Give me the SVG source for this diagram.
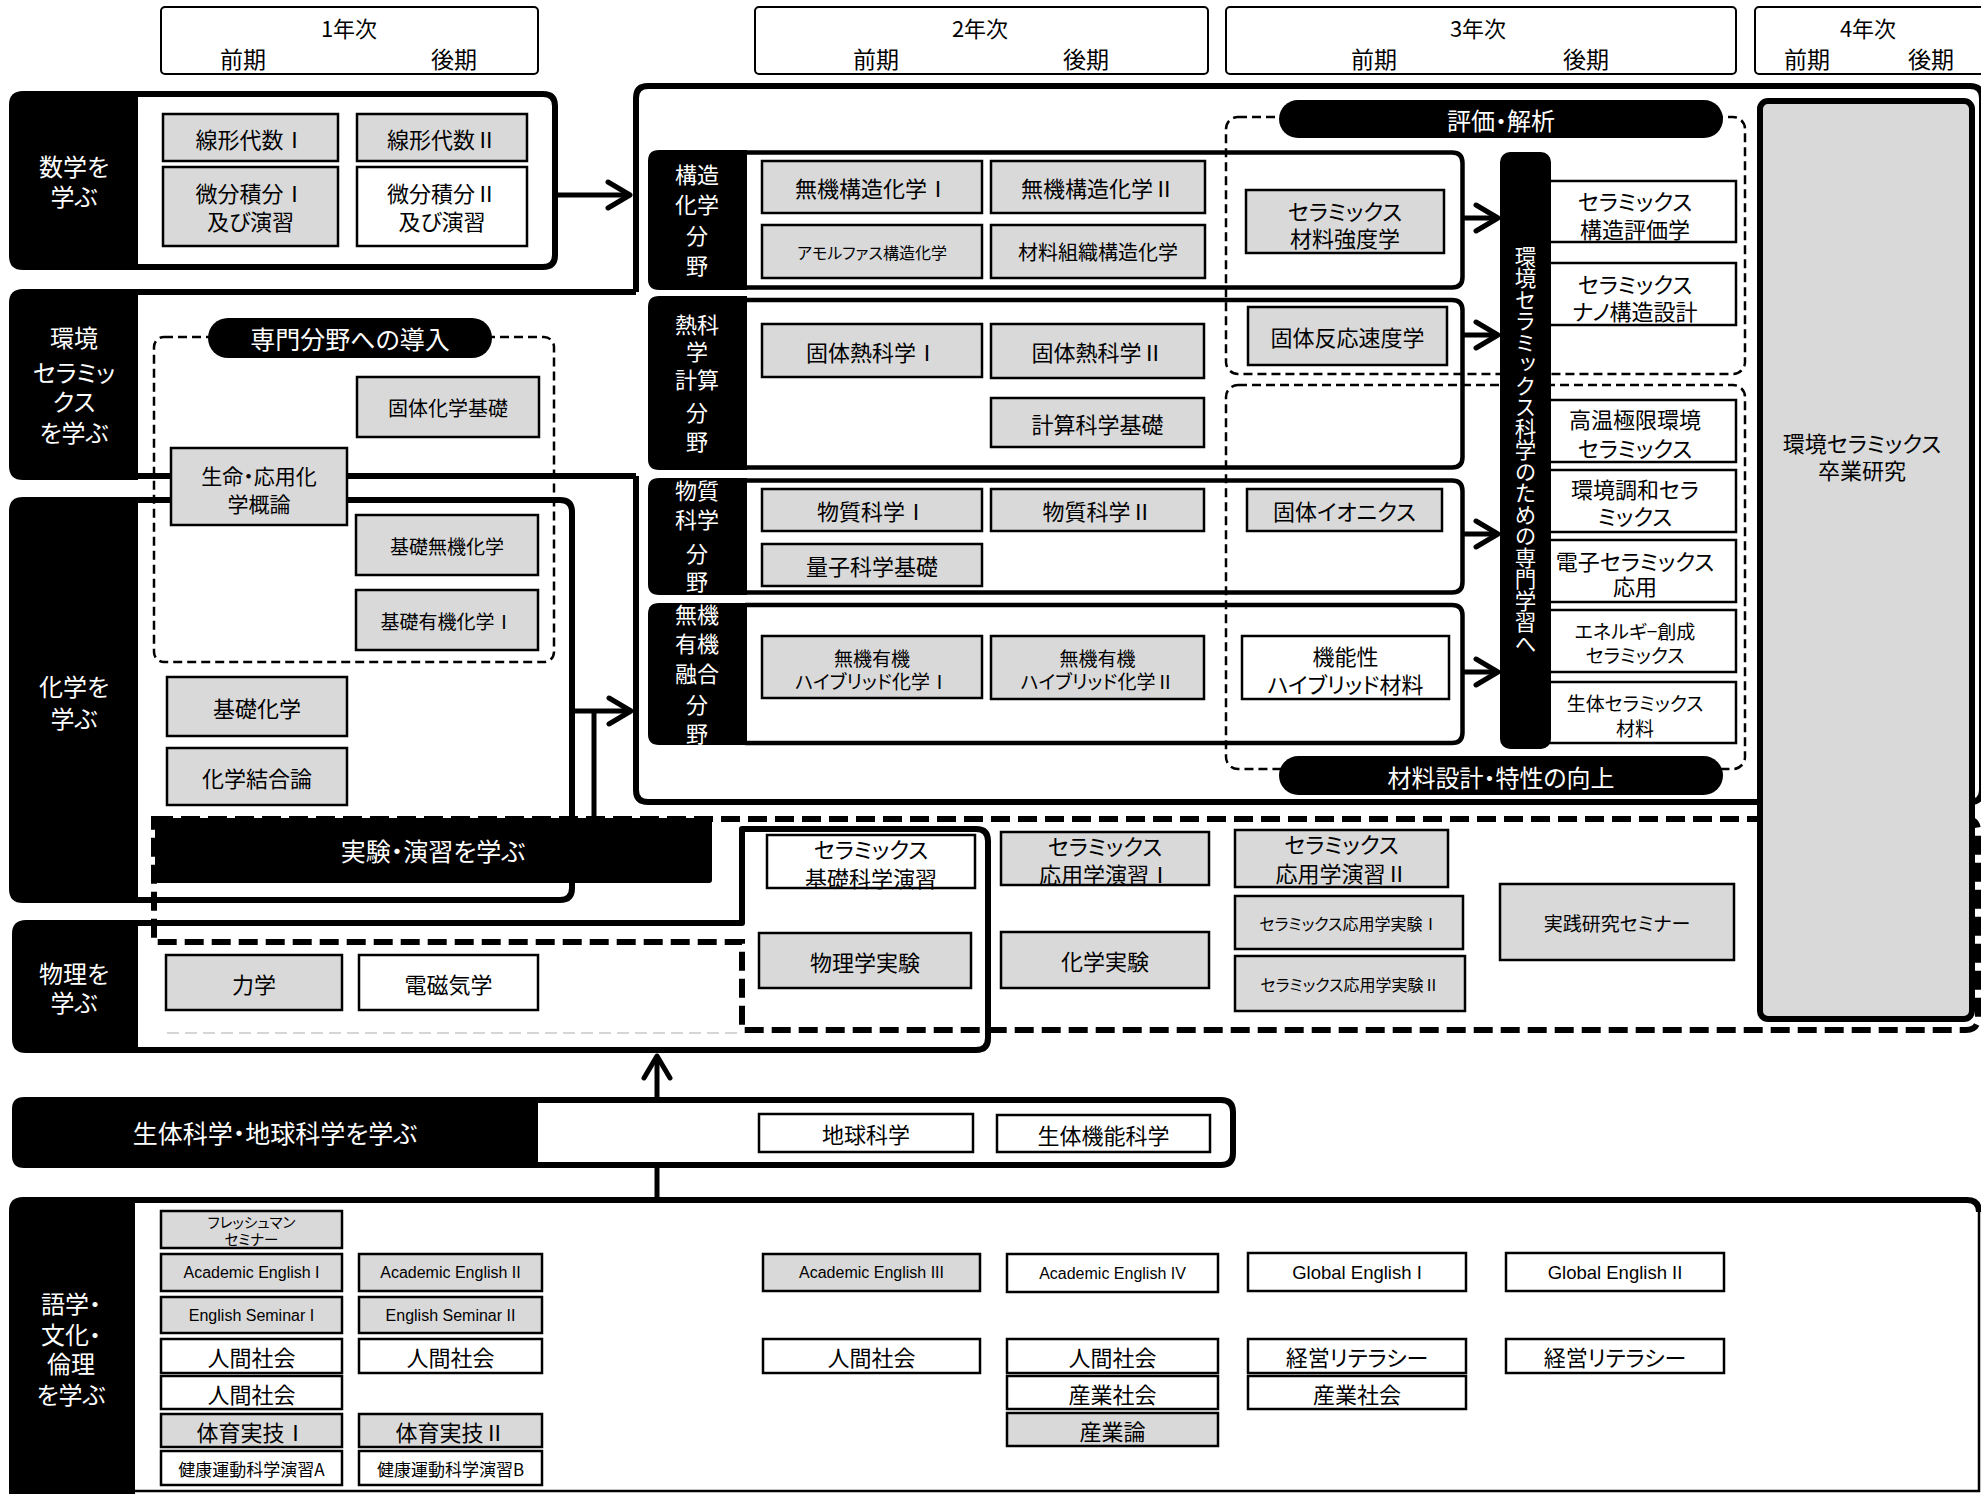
<svg xmlns="http://www.w3.org/2000/svg" width="1981" height="1494" viewBox="0 0 1981 1494">
<defs>
<style>
text{font-family:"Noto Sans CJK JP","Noto Sans CJK SC",sans-serif;text-anchor:middle;dominant-baseline:central;font-feature-settings:"palt";fill:#000;font-size:22px}
.rn{font-feature-settings:normal}
.wt{fill:#fff}
.en{font-family:"Liberation Sans",Arial,sans-serif;font-feature-settings:normal;font-size:16px}
.en2{font-family:"Liberation Sans",Arial,sans-serif;font-feature-settings:normal;font-size:18.5px}
.g{fill:#d9d9d9;stroke:#000;stroke-width:2.5}
.w{fill:#fff;stroke:#000;stroke-width:2.5}
.hdr{fill:#fff;stroke:#000;stroke-width:2}
.frame{fill:none;stroke:#000;stroke-width:6;stroke-linejoin:round}
.thin{fill:none;stroke:#000;stroke-width:2.5}
.ff{fill:none;stroke:#000;stroke-width:4.5;stroke-linejoin:round}
.blk{fill:#000}
.dt{fill:none;stroke:#000;stroke-width:2.5;stroke-dasharray:9 5}
.dk{fill:none;stroke:#000;stroke-width:6;stroke-dasharray:19 8}
.lg{fill:none;stroke:#c8c8c8;stroke-width:1.5;stroke-dasharray:12 6}
.ln{fill:none;stroke:#000;stroke-width:5}
.f14{font-size:14.5px}.f16{font-size:16px}.f17{font-size:17px}.f19{font-size:19px}.f20{font-size:20px}.f21{font-size:21px}.f23{font-size:23px}.f24{font-size:24px}.f25{font-size:25px}
.vt{writing-mode:vertical-rl;font-feature-settings:normal;font-size:21.5px}
</style>
<marker id="arr" markerUnits="userSpaceOnUse" markerWidth="32" markerHeight="32" viewBox="0 0 32 32" refX="28" refY="16" orient="auto">
<path d="M6 3 L28 16 L6 29" fill="none" stroke="#000" stroke-width="5" stroke-linecap="round" stroke-linejoin="round"/>
</marker>
</defs>
<rect x="0" y="0" width="1981" height="1494" fill="#fff"/>

<!-- Year headers -->
<g id="hdr1"><rect class="hdr" x="161" y="7" width="377" height="67" rx="4"/><text x="349" y="27">1年次</text><text class="f23" x="243" y="58">前期</text><text class="f23" x="454" y="58">後期</text></g>
<g id="hdr2"><rect class="hdr" x="755" y="7" width="453" height="67" rx="4"/><text x="980" y="27">2年次</text><text class="f23" x="876" y="58">前期</text><text class="f23" x="1086" y="58">後期</text></g>
<g id="hdr3"><rect class="hdr" x="1226" y="7" width="510" height="67" rx="4"/><text x="1478" y="27">3年次</text><text class="f23" x="1374" y="58">前期</text><text class="f23" x="1586" y="58">後期</text></g>
<g id="hdr4"><rect class="hdr" x="1755" y="7" width="240" height="67" rx="4"/><text x="1868" y="27">4年次</text><text class="f23" x="1807" y="58">前期</text><text class="f23" x="1931" y="58">後期</text></g>

<!-- Big 2-3 year panel -->
<g id="panel-major">
<path class="frame" d="M636 292 V98 Q636 86 648 86 H1970 Q1982 86 1982 98 V790 Q1982 802 1970 802 H648 Q636 802 636 790 V476"/>
</g>

<!-- 環境セラミックスを学ぶ -->
<g id="panel-env">
<path class="frame" d="M135 292 H636 M135 476 H636"/>
<path class="blk" d="M138 289 H23 Q9 289 9 303 V466 Q9 480 23 480 H138 Z"/>
<text class="wt f24" x="74" y="336">環境</text>
<text class="wt f24" x="74" y="371">セラミッ</text>
<text class="wt f24" x="74" y="400">クス</text>
<text class="wt f24" x="74" y="431">を学ぶ</text>
</g>

<!-- 数学を学ぶ -->
<g id="panel-math">
<path class="frame" d="M135 94 H543 Q555 94 555 106 V255 Q555 267 543 267 H135" fill="#fff"/>
<path class="blk" d="M138 91 H23 Q9 91 9 105 V256 Q9 270 23 270 H138 Z"/>
<text class="wt f24" x="74" y="165">数学を</text>
<text class="wt f24" x="74" y="195">学ぶ</text>
</g>

<!-- 化学を学ぶ -->
<g id="panel-chem">
<path class="frame" d="M135 500 H560 Q572 500 572 512 V888 Q572 900 560 900 H135"/>
<path class="blk" d="M138 497 H23 Q9 497 9 511 V889 Q9 903 23 903 H138 Z"/>
<text class="wt f24" x="74" y="685">化学を</text>
<text class="wt f24" x="74" y="717">学ぶ</text>
</g>

<!-- 専門分野への導入 -->
<g id="intro-region">
<rect class="dt" x="154" y="337" width="400" height="325" rx="10"/>
<rect class="blk" x="208" y="318" width="284" height="40" rx="20"/>
<text class="wt f25" x="350" y="338">専門分野への導入</text>
</g>

<!-- Field frames -->
<g id="field-struct">
<path class="ff" d="M745 152.5 H1452 Q1462.5 152.5 1462.5 163 V277 Q1462.5 287.5 1452 287.5 H745"/>
<path class="blk" d="M747 150 H659 Q648 150 648 161 V279 Q648 290 659 290 H747 Z"/>
<text class="wt" x="697" y="173">構造</text><text class="wt" x="697" y="203">化学</text><text class="wt" x="697" y="234">分</text><text class="wt" x="697" y="264">野</text>
</g>
<g id="field-thermo">
<path class="ff" d="M745 300 H1452 Q1462.5 300 1462.5 310.5 V457 Q1462.5 467.5 1452 467.5 H745"/>
<path class="blk" d="M747 296 H659 Q648 296 648 307 V459 Q648 470 659 470 H747 Z"/>
<text class="wt" x="697" y="323">熱科</text><text class="wt" x="697" y="350">学</text><text class="wt" x="697" y="378">計算</text><text class="wt" x="697" y="411">分</text><text class="wt" x="697" y="440">野</text>
</g>
<g id="field-matter">
<path class="ff" d="M745 480.5 H1452 Q1462.5 480.5 1462.5 491 V582 Q1462.5 592.5 1452 592.5 H745"/>
<path class="blk" d="M747 478 H659 Q648 478 648 489 V584 Q648 595 659 595 H747 Z"/>
<text class="wt" x="697" y="489">物質</text><text class="wt" x="697" y="518">科学</text><text class="wt" x="697" y="552">分</text><text class="wt" x="697" y="580">野</text>
</g>
<g id="field-hybrid">
<path class="ff" d="M745 605 H1452 Q1462.5 605 1462.5 615.5 V732.5 Q1462.5 743 1452 743 H745"/>
<path class="blk" d="M747 603 H659 Q648 603 648 614 V734 Q648 745 659 745 H747 Z"/>
<text class="wt" x="697" y="613">無機</text><text class="wt" x="697" y="642">有機</text><text class="wt" x="697" y="672">融合</text><text class="wt" x="697" y="703">分</text><text class="wt" x="697" y="732">野</text>
</g>

<!-- 評価・解析 / 材料設計 regions -->
<g id="eval-region">
<rect class="dt" x="1226" y="117" width="519" height="257" rx="12"/>
<rect class="blk" x="1279" y="100" width="444" height="38" rx="19"/>
<text class="wt f24" x="1501" y="119">評価・解析</text>
</g>
<g id="design-region">
<rect class="dt" x="1226" y="385" width="519" height="384" rx="12"/>
<rect class="blk" x="1279" y="756" width="444" height="39" rx="19.5"/>
<text class="wt f24" x="1501" y="776">材料設計・特性の向上</text>
</g>

<!-- 実験・演習 region -->
<g id="lab-region">
<path class="dk" d="M154 819 H1966 Q1978 819 1978 831 V1018 Q1978 1030 1966 1030 H742 V942 H154 Z"/>
<line class="lg" x1="167" y1="1033" x2="737" y2="1033"/>
<rect class="blk" x="155" y="818" width="557" height="65" rx="3"/>
<text class="wt f25" x="433" y="850">実験・演習を学ぶ</text>
</g>

<!-- 物理を学ぶ -->
<g id="panel-phys">
<path class="frame" d="M135 923 H742 V829 H976 Q988 829 988 841 V1038 Q988 1050 976 1050 H135"/>
<path class="blk" d="M138 920 H26 Q12 920 12 934 V1039 Q12 1053 26 1053 H138 Z"/>
<text class="wt f24" x="74" y="972">物理を</text>
<text class="wt f24" x="74" y="1001">学ぶ</text>
</g>

<!-- 生体科学・地球科学を学ぶ -->
<g id="panel-bio">
<path class="frame" d="M535 1100 H1221 Q1233 1100 1233 1112 V1153 Q1233 1165 1221 1165 H535"/>
<path class="blk" d="M538 1097 H24 Q12 1097 12 1109 V1156 Q12 1168 24 1168 H538 Z"/>
<text class="wt f25" x="275" y="1132">生体科学・地球科学を学ぶ</text>
</g>

<!-- 語学・文化・倫理を学ぶ -->
<g id="panel-lang">
<path class="frame" d="M132 1200 H1967 Q1979 1200 1979 1212"/>
<path class="thin" d="M1979 1210 V1491 H132"/>
<path class="blk" d="M135 1197 H23 Q9 1197 9 1211 V1494 H135 Z"/>
<text class="wt f24" x="71" y="1302">語学・</text>
<text class="wt f24" x="71" y="1333">文化・</text>
<text class="wt f24" x="71" y="1362">倫理</text>
<text class="wt f24" x="71" y="1393">を学ぶ</text>
</g>

<!-- Connectors -->
<g id="connectors">
<path class="ln" d="M558 195 H630" marker-end="url(#arr)"/>
<path class="ln" d="M575 711 H631" marker-end="url(#arr)"/>
<path class="ln" d="M594 711 V818"/>
<path class="ln" d="M1463 218 H1498" marker-end="url(#arr)"/>
<path class="ln" d="M1463 335 H1498" marker-end="url(#arr)"/>
<path class="ln" d="M1463 534 H1498" marker-end="url(#arr)"/>
<path class="ln" d="M1463 672 H1498" marker-end="url(#arr)"/>
<path class="ln" d="M657 1098 V1056" marker-end="url(#arr)"/>
<path class="ln" d="M657 1167 V1200"/>
</g>

<!-- Math courses -->
<g id="c-linalg1"><rect class="g" x="163" y="114" width="175" height="47"/><text x="250.5" y="137.5">線形代数<tspan class="rn">Ⅰ</tspan></text></g>
<g id="c-linalg2"><rect class="g" x="357" y="114" width="170" height="47"/><text x="442" y="137.5">線形代数<tspan class="rn">Ⅱ</tspan></text></g>
<g id="c-calc1"><rect class="g" x="163" y="167" width="175" height="79"/><text x="250.5" y="192">微分積分<tspan class="rn">Ⅰ</tspan></text><text x="250.5" y="220">及び演習</text></g>
<g id="c-calc2"><rect class="w" x="357" y="167" width="170" height="79"/><text x="442" y="192">微分積分<tspan class="rn">Ⅱ</tspan></text><text x="442" y="220">及び演習</text></g>

<!-- Intro courses -->
<g id="c-solidchem"><rect class="g" x="357" y="377" width="182" height="60"/><text class="f20" x="448" y="407">固体化学基礎</text></g>
<g id="c-lifechem"><rect class="g" x="171" y="448" width="176" height="77"/><text class="f21" x="259" y="475">生命・応用化</text><text class="f21" x="259" y="503">学概論</text></g>
<g id="c-inorg"><rect class="g" x="356" y="515" width="182" height="60"/><text class="f19" x="447" y="545">基礎無機化学</text></g>
<g id="c-org"><rect class="g" x="356" y="590" width="182" height="60"/><text class="f19" x="447" y="620">基礎有機化学<tspan class="rn">Ⅰ</tspan></text></g>

<!-- Chem courses -->
<g id="c-basicchem"><rect class="g" x="167" y="677" width="180" height="59"/><text x="257" y="706.5">基礎化学</text></g>
<g id="c-bond"><rect class="g" x="167" y="748" width="180" height="57"/><text x="257" y="776.5">化学結合論</text></g>

<!-- Physics courses -->
<g id="c-mech"><rect class="g" x="166" y="955" width="176" height="55"/><text x="254" y="982.5">力学</text></g>
<g id="c-em"><rect class="w" x="359" y="955" width="179" height="55"/><text x="448.5" y="982.5">電磁気学</text></g>

<!-- Structure field -->
<g id="c-isc1"><rect class="g" x="762" y="161" width="220" height="52"/><text x="872" y="187">無機構造化学<tspan class="rn">Ⅰ</tspan></text></g>
<g id="c-amorph"><rect class="g" x="762" y="225" width="220" height="53"/><text class="f16" x="872" y="251.5">アモルファス構造化学</text></g>
<g id="c-isc2"><rect class="g" x="991" y="161" width="214" height="52"/><text x="1098" y="187">無機構造化学<tspan class="rn">Ⅱ</tspan></text></g>
<g id="c-micro"><rect class="g" x="991" y="225" width="214" height="53"/><text class="f20" x="1098" y="251.5">材料組織構造化学</text></g>
<g id="c-strength"><rect class="g" x="1246" y="190" width="198" height="63"/><text x="1345" y="210">セラミックス</text><text x="1345" y="237">材料強度学</text></g>

<!-- Thermo field -->
<g id="c-thermo1"><rect class="g" x="762" y="324" width="220" height="53"/><text x="872" y="350.5">固体熱科学<tspan class="rn">Ⅰ</tspan></text></g>
<g id="c-thermo2"><rect class="g" x="991" y="324" width="213" height="54"/><text x="1097.5" y="351">固体熱科学<tspan class="rn">Ⅱ</tspan></text></g>
<g id="c-comp"><rect class="g" x="991" y="398" width="213" height="49"/><text x="1097.5" y="422.5">計算科学基礎</text></g>
<g id="c-kinetics"><rect class="g" x="1248" y="307" width="199" height="58"/><text x="1347.5" y="336">固体反応速度学</text></g>

<!-- Matter field -->
<g id="c-matter1"><rect class="g" x="762" y="489" width="220" height="42"/><text x="872" y="510">物質科学<tspan class="rn">Ⅰ</tspan></text></g>
<g id="c-quantum"><rect class="g" x="762" y="544" width="220" height="42"/><text x="872" y="565">量子科学基礎</text></g>
<g id="c-matter2"><rect class="g" x="991" y="489" width="213" height="42"/><text x="1097.5" y="510">物質科学<tspan class="rn">Ⅱ</tspan></text></g>
<g id="c-ionics"><rect class="g" x="1247" y="489" width="195" height="42"/><text x="1344.5" y="510">固体イオニクス</text></g>

<!-- Hybrid field -->
<g id="c-hyb1"><rect class="g" x="762" y="636" width="220" height="62"/><text class="f19" x="872" y="657">無機有機</text><text class="f19" x="872" y="680">ハイブリッド化学<tspan class="rn">Ⅰ</tspan></text></g>
<g id="c-hyb2"><rect class="g" x="991" y="636" width="213" height="63"/><text class="f19" x="1097.5" y="657">無機有機</text><text class="f19" x="1097.5" y="680">ハイブリッド化学<tspan class="rn">Ⅱ</tspan></text></g>
<g id="c-funchyb"><rect class="w" x="1242" y="636" width="207" height="63"/><text x="1345.5" y="655">機能性</text><text x="1345.5" y="683">ハイブリッド材料</text></g>

<!-- Specialized courses (right) -->
<g id="c-structeval"><rect class="w" x="1533" y="181" width="203" height="61"/><text x="1635" y="200">セラミックス</text><text x="1635" y="228">構造評価学</text></g>
<g id="c-nano"><rect class="w" x="1533" y="263" width="203" height="62"/><text x="1635" y="283">セラミックス</text><text x="1635" y="310">ナノ構造設計</text></g>
<g id="c-hightemp"><rect class="w" x="1533" y="400" width="203" height="62"/><text x="1635" y="418">高温極限環境</text><text x="1635" y="447">セラミックス</text></g>
<g id="c-envharm"><rect class="w" x="1533" y="470" width="203" height="62"/><text x="1635" y="488">環境調和セラ</text><text x="1635" y="515">ミックス</text></g>
<g id="c-electro"><rect class="w" x="1533" y="540" width="203" height="62"/><text x="1635" y="560">電子セラミックス</text><text x="1635" y="585">応用</text></g>
<g id="c-energy"><rect class="w" x="1533" y="610" width="203" height="62"/><text class="f19" x="1635" y="630">エネルギ−創成</text><text class="f19" x="1635" y="654">セラミックス</text></g>
<g id="c-bioceram"><rect class="w" x="1533" y="682" width="203" height="61"/><text class="f19" x="1635" y="702">生体セラミックス</text><text class="f19" x="1635" y="727">材料</text></g>

<!-- Vertical bar -->
<g id="spec-bar">
<rect class="blk" x="1500" y="152" width="51" height="597" rx="10"/>
<text class="wt vt" x="1525.5" y="450">環境セラミックス科学のための専門学習へ</text>
</g>

<!-- Lab courses -->
<g id="c-basicprac"><rect class="w" x="767" y="835" width="208" height="53"/><text x="871" y="848">セラミックス</text><text x="871" y="877">基礎科学演習</text></g>
<g id="c-physlab"><rect class="g" x="759" y="933" width="212" height="55"/><text x="865" y="960.5">物理学実験</text></g>
<g id="c-appprac1"><rect class="g" x="1001" y="832" width="208" height="53"/><text x="1105" y="845">セラミックス</text><text x="1105" y="873">応用学演習<tspan class="rn">Ⅰ</tspan></text></g>
<g id="c-chemlab"><rect class="g" x="1001" y="932" width="208" height="56"/><text x="1105" y="960">化学実験</text></g>
<g id="c-appprac2"><rect class="g" x="1235" y="830" width="213" height="57"/><text x="1341.5" y="843">セラミックス</text><text x="1341.5" y="872">応用学演習<tspan class="rn">Ⅱ</tspan></text></g>
<g id="c-applab1"><rect class="g" x="1235" y="896" width="228" height="53"/><text class="f16" x="1349" y="922.5">セラミックス応用学実験<tspan class="rn">Ⅰ</tspan></text></g>
<g id="c-applab2"><rect class="g" x="1235" y="956" width="230" height="55"/><text class="f16" x="1350" y="983.5">セラミックス応用学実験<tspan class="rn">Ⅱ</tspan></text></g>
<g id="c-seminar"><rect class="g" x="1500" y="884" width="234" height="76"/><text class="f19" x="1617" y="922">実践研究セミナー</text></g>

<!-- Graduation research -->
<g id="c-thesis"><rect x="1760" y="101" width="212" height="918" rx="8" fill="#d9d9d9" stroke="#000" stroke-width="6"/><text x="1862" y="442">環境セラミックス</text><text x="1862" y="469">卒業研究</text></g>

<!-- Bio/Earth courses -->
<g id="c-earth"><rect class="w" x="759" y="1114" width="214" height="38"/><text x="866" y="1133">地球科学</text></g>
<g id="c-biofunc"><rect class="w" x="997" y="1115" width="213" height="37"/><text x="1103.5" y="1133.5">生体機能科学</text></g>

<!-- Language / culture courses -->
<g id="c-fresh"><rect class="g" x="161" y="1211" width="181" height="37"/><text class="f14" x="251.5" y="1221">フレッシュマン</text><text class="f14" x="251.5" y="1238">セミナー</text></g>
<g id="c-ae1"><rect class="g" x="161" y="1254" width="181" height="37"/><text class="en" x="251.5" y="1272.5">Academic English I</text></g>
<g id="c-es1"><rect class="g" x="161" y="1297" width="181" height="36"/><text class="en" x="251.5" y="1315">English Seminar I</text></g>
<g id="c-hs1a"><rect class="w" x="161" y="1339" width="181" height="34"/><text x="251.5" y="1356">人間社会</text></g>
<g id="c-hs1b"><rect class="w" x="161" y="1376" width="181" height="33"/><text x="251.5" y="1392.5">人間社会</text></g>
<g id="c-pe1"><rect class="g" x="161" y="1414" width="181" height="33"/><text x="251.5" y="1430.5">体育実技<tspan class="rn">Ⅰ</tspan></text></g>
<g id="c-healthA"><rect class="w" x="161" y="1451" width="181" height="34"/><text class="f17" x="251.5" y="1468">健康運動科学演習A</text></g>

<g id="c-ae2"><rect class="g" x="359" y="1254" width="183" height="37"/><text class="en" x="450.5" y="1272.5">Academic English II</text></g>
<g id="c-es2"><rect class="g" x="359" y="1297" width="183" height="36"/><text class="en" x="450.5" y="1315">English Seminar II</text></g>
<g id="c-hs2"><rect class="w" x="359" y="1339" width="183" height="34"/><text x="450.5" y="1356">人間社会</text></g>
<g id="c-pe2"><rect class="g" x="359" y="1414" width="183" height="33"/><text x="450.5" y="1430.5">体育実技<tspan class="rn">Ⅱ</tspan></text></g>
<g id="c-healthB"><rect class="w" x="359" y="1451" width="183" height="34"/><text class="f17" x="450.5" y="1468">健康運動科学演習B</text></g>

<g id="c-ae3"><rect class="g" x="763" y="1254" width="217" height="37"/><text class="en" x="871.5" y="1272.5">Academic English III</text></g>
<g id="c-hs3"><rect class="w" x="763" y="1339" width="217" height="34"/><text x="871.5" y="1356">人間社会</text></g>

<g id="c-ae4"><rect class="w" x="1007" y="1254" width="211" height="38"/><text class="en" x="1112.5" y="1273">Academic English IV</text></g>
<g id="c-hs4"><rect class="w" x="1007" y="1339" width="211" height="34"/><text x="1112.5" y="1356">人間社会</text></g>
<g id="c-ind4"><rect class="w" x="1007" y="1376" width="211" height="33"/><text x="1112.5" y="1392.5">産業社会</text></g>
<g id="c-indth"><rect class="g" x="1007" y="1413" width="211" height="33"/><text x="1112.5" y="1429.5">産業論</text></g>

<g id="c-ge1"><rect class="w" x="1248" y="1253" width="218" height="38"/><text class="en2" x="1357" y="1272">Global English I</text></g>
<g id="c-mgmt5"><rect class="w" x="1248" y="1339" width="218" height="34"/><text x="1357" y="1356">経営リテラシー</text></g>
<g id="c-ind5"><rect class="w" x="1248" y="1376" width="218" height="33"/><text x="1357" y="1392.5">産業社会</text></g>

<g id="c-ge2"><rect class="w" x="1506" y="1253" width="218" height="38"/><text class="en2" x="1615" y="1272">Global English II</text></g>
<g id="c-mgmt6"><rect class="w" x="1506" y="1339" width="218" height="34"/><text x="1615" y="1356">経営リテラシー</text></g>
</svg>
